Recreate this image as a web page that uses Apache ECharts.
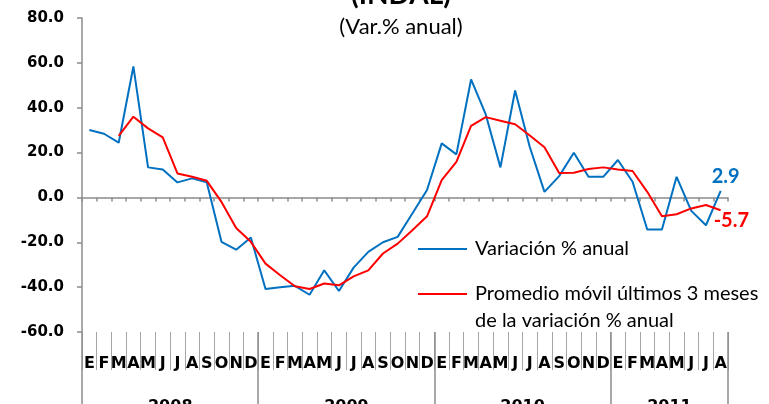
<!DOCTYPE html>
<html lang="es">
  <head>
    <meta charset="utf-8" />
    <style>
      html {
        width: 100%;
        height: 100%;
        background-color: #fff;
      }
      body {
        margin: 0;
      }
      body,
      #container {
        width: 100%;
        height: 100%;
      }
    </style>
    <script src="https://cdn.jsdelivr.net/npm/echarts@6/dist/echarts.min.js"></script>
  </head>

  <body>
    <div id="container"></div>

    <script>
      var months = ["E", "F", "M", "A", "M", "J", "J", "A", "S", "O", "N", "D"];
      var years = ["2008", "2009", "2010", "2011"];
      var monthsPerYear = [12, 12, 12, 8];

      // Variación % anual
      var variacion = [
        30.1, 28.4, 24.4, 58.4, 13.4, 12.5, 6.7, 8.5, 6.7, -19.8, -23.3, -17.9,
        -40.8, -40.1, -39.4, -43.4, -32.5, -41.7, -31.3, -24.3, -20.0, -17.6, -7.2, 3.3,
        24.1, 19.2, 52.6, 37.0, 13.4, 47.7, 22.5, 2.5, 9.5, 19.9, 9.2, 9.2,
        16.7, 7.0, -14.3, -14.3, 9.2, -6.0, -12.4, 2.9
      ];

      // Promedio móvil últimos 3 meses
      var promedio = [
        null, null, 27.4, 36.0, 30.8, 26.8, 10.7, 9.2, 7.4, -2.0, -13.6, -19.8,
        -29.5, -34.7, -39.6, -40.8, -38.4, -39.2, -35.2, -32.5, -25.0, -20.6, -14.6, -8.4,
        7.7, 15.9, 31.9, 35.8, 34.2, 32.6, 27.6, 22.4, 10.9, 11.0, 12.7, 13.4,
        12.5, 11.8, 2.5, -8.4, -7.5, -4.9, -3.4, -5.7
      ];

      var yTicks = { min: -60, max: 80, step: 20 };

      (function () {
        var chart = echarts.init(document.querySelector("#container"));
        var FONT = "Lato";
        var BOLDFONT = "DejaVu Sans";
        var BLUE = "#0070C0";
        var RED = "#FF0000";
        var GRAY = "#8C8C8C";

        // categories: one per month, keys kept unique
        var cats = [];
        var yearStart = [];
        var yearMid = {};
        years.forEach(function (y, k) {
          yearStart.push(cats.length);
          yearMid[cats.length + monthsPerYear[k] / 2 - 1] = y;
          for (var i = 0; i < monthsPerYear[k]; i++) cats.push(y + "-" + months[i] + "-" + i);
        });

        function endLabel(color, offset) {
          return {
            show: true,
            distance: 0,
            offset: offset,
            color: color,
            fontFamily: FONT,
            fontWeight: "bold",
            fontSize: 20,
            formatter: function (p) { return Number(p.value).toFixed(1); }
          };
        }

        var option = {
          animation: false,
          title: [
            {
              text: "(INDAL)",
              left: 401,
              top: -19,
              padding: 0,
              textAlign: "center",
              textStyle: { fontFamily: FONT, fontWeight: "bold", fontSize: 28, color: "#000" }
            },
            {
              text: "(Var.% anual)",
              left: 401,
              top: 16,
              padding: 0,
              textAlign: "center",
              textStyle: { fontFamily: FONT, fontWeight: "normal", fontSize: 22, color: "#000" }
            },
            {
              text: "de la variación % anual",
              left: 475,
              top: 311,
              padding: 0,
              textStyle: { fontFamily: FONT, fontWeight: "normal", fontSize: 20, color: "#000" }
            }
          ],
          legend: {
            orient: "vertical",
            left: 418,
            top: 239,
            padding: 0,
            icon: "rect",
            itemWidth: 49,
            itemHeight: 2,
            itemGap: 25,
            textStyle: { fontFamily: FONT, fontSize: 20, color: "#000", padding: [0, 0, 0, 3] },
            data: ["Variación % anual", "Promedio móvil últimos 3 meses"]
          },
          grid: { left: 82, right: 41, top: 18, bottom: 72, outerBoundsMode: "none", containLabel: false },
          xAxis: [
            {
              type: "category",
              data: cats,
              position: "bottom",
              axisLine: { onZero: true, lineStyle: { color: GRAY, width: 1.5 } },
              axisTick: { show: true, interval: 0, length: 4, lineStyle: { color: GRAY, width: 1.5 } },
              axisLabel: { show: false }
            },
            {
              type: "category",
              data: cats,
              position: "bottom",
              axisLine: { show: false, onZero: false },
              axisTick: { show: true, interval: 0, length: 38, lineStyle: { color: "#A6A6A6", width: 1 } },
              axisLabel: {
                interval: 0,
                margin: 24,
                fontFamily: BOLDFONT,
                fontWeight: "bold",
                fontSize: 16,
                color: "#000",
                formatter: function (v) { return v.split("-")[1]; }
              }
            },
            {
              type: "category",
              data: cats,
              position: "bottom",
              axisLine: { show: false, onZero: false },
              axisTick: {
                show: true,
                interval: function (i) { return yearStart.indexOf(i) >= 0; },
                length: 80,
                lineStyle: { color: GRAY, width: 1.5 }
              },
              axisLabel: {
                interval: function (i) { return yearMid[i] !== undefined; },
                margin: 67,
                padding: [0, 0, 0, 15],
                fontFamily: BOLDFONT,
                fontWeight: "bold",
                fontSize: 16,
                color: "#000",
                formatter: function (v) { return v.split("-")[0]; }
              }
            }
          ],
          yAxis: {
            type: "value",
            min: yTicks.min,
            max: yTicks.max,
            interval: yTicks.step,
            axisLine: { show: true, lineStyle: { color: GRAY, width: 1.5 } },
            axisTick: { show: true, length: 5, lineStyle: { color: GRAY, width: 1.5 } },
            splitLine: { show: false },
            axisLabel: {
              margin: 18,
              fontFamily: BOLDFONT,
              fontWeight: "bold",
              fontSize: 15,
              color: "#000",
              formatter: function (v) { return v.toFixed(1); }
            }
          },
          series: [
            {
              name: "Variación % anual",
              type: "line",
              xAxisIndex: 0,
              symbol: "none",
              lineStyle: { color: BLUE, width: 2 },
              itemStyle: { color: BLUE },
              endLabel: endLabel(BLUE, [-9, -14]),
              data: variacion
            },
            {
              name: "Promedio móvil últimos 3 meses",
              type: "line",
              xAxisIndex: 0,
              symbol: "none",
              lineStyle: { color: RED, width: 2 },
              itemStyle: { color: RED },
              endLabel: endLabel(RED, [-7, 10]),
              data: promedio
            }
          ]
        };
        chart.setOption(option);

        window.addEventListener("resize", function () {
          chart && chart.resize && chart.resize();
        });
      })();
    </script>
  </body>
</html>
